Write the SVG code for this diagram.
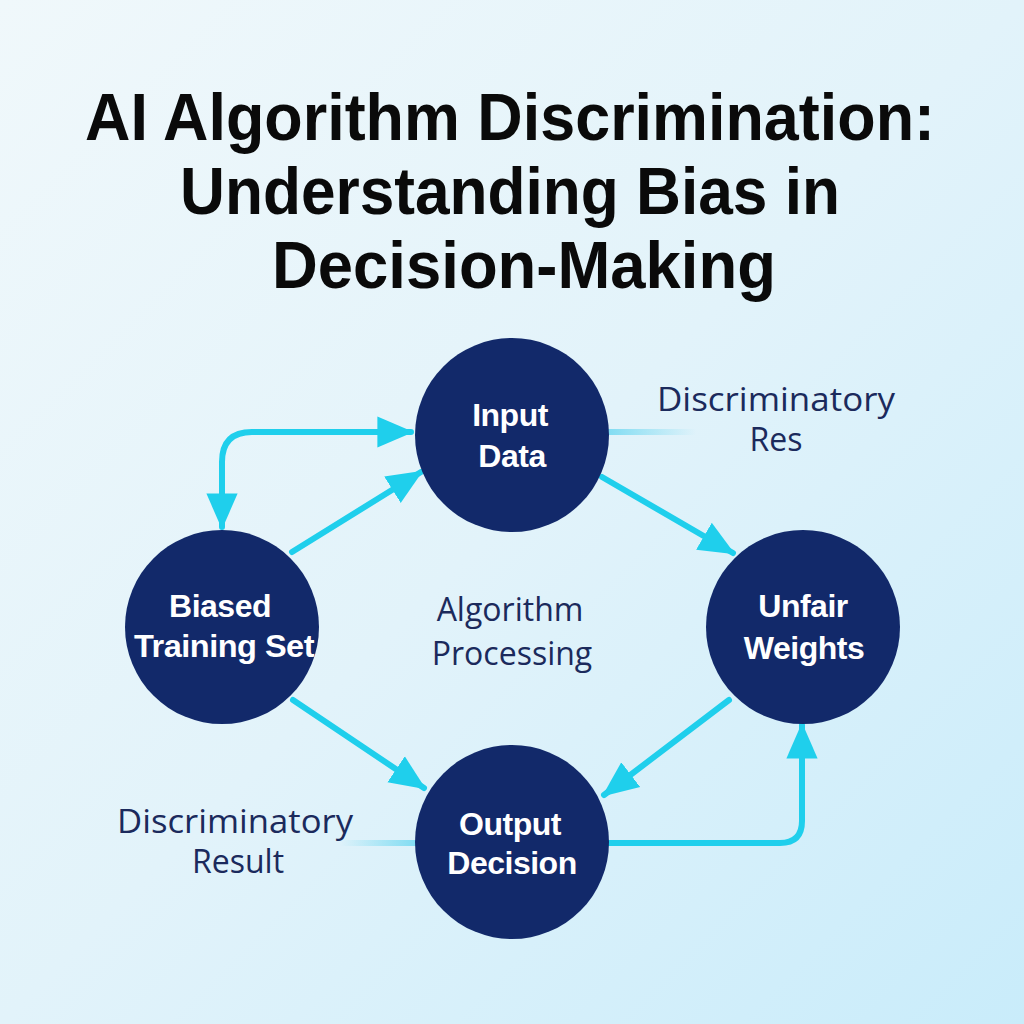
<svg xmlns="http://www.w3.org/2000/svg" width="1024" height="1024" viewBox="0 0 1024 1024">
<defs>
<linearGradient id="bg" x1="0" y1="0" x2="1" y2="1">
<stop offset="0" stop-color="#f0f8fb"/>
<stop offset="0.5" stop-color="#e2f3fa"/>
<stop offset="1" stop-color="#c9ecfa"/>
</linearGradient>
<linearGradient id="fadeR" x1="0" y1="0" x2="1" y2="0">
<stop offset="0" stop-color="#7fdcf2"/>
<stop offset="1" stop-color="#7fdcf2" stop-opacity="0"/>
</linearGradient>
<linearGradient id="fadeL" x1="1" y1="0" x2="0" y2="0">
<stop offset="0" stop-color="#7fdcf2"/>
<stop offset="1" stop-color="#7fdcf2" stop-opacity="0"/>
</linearGradient>
<marker id="ah" markerUnits="userSpaceOnUse" markerWidth="36" markerHeight="36" viewBox="0 0 30 30" refX="28" refY="15" orient="auto-start-reverse">
<path d="M0,2 L30,15 L0,28 Z" fill="#1fcfec"/>
</marker>
<style>
.node{fill:#12296a}
.nl{font-family:"Liberation Sans",Arial,sans-serif;font-weight:bold;font-size:32px;fill:#ffffff;text-anchor:middle;letter-spacing:-0.5px}
.fl{font-family:"Open Sans","Liberation Sans",sans-serif;font-size:32px;fill:#1b2a5c;text-anchor:middle}
.title{font-family:"Liberation Sans",Arial,sans-serif;font-weight:bold;font-size:66px;fill:#0a0a0a;text-anchor:middle}
.c{fill:none;stroke:#1fcfec;stroke-width:6;stroke-linecap:round;stroke-linejoin:round}
</style>
</defs>
<rect width="1024" height="1024" fill="url(#bg)"/>
<g id="title">
<text class="title" x="510" y="140" textLength="850" lengthAdjust="spacingAndGlyphs">AI Algorithm Discrimination:</text>
<text class="title" x="510" y="214" textLength="660" lengthAdjust="spacingAndGlyphs">Understanding Bias in</text>
<text class="title" x="524" y="288" textLength="504" lengthAdjust="spacingAndGlyphs">Decision-Making</text>
</g>
<g id="connectors">
<path class="c" d="M222,527 L222,462 Q222,432 252,432 L411,432" marker-start="url(#ah)" marker-end="url(#ah)"/>
<path class="c" d="M292,552 L421,472" marker-end="url(#ah)"/>
<path class="c" d="M602,477 L733,553" marker-end="url(#ah)"/>
<path class="c" d="M729,700 L604,795" marker-end="url(#ah)"/>
<path class="c" d="M293,700 L424,788" marker-end="url(#ah)"/>
<path class="c" d="M608,843 L780,843 Q802,843 802,821 L802,725" marker-end="url(#ah)"/>
<rect x="606" y="429" width="90" height="6" fill="url(#fadeR)"/>
<rect x="340" y="840" width="78" height="6" fill="url(#fadeL)"/>
</g>
<g id="input-data">
<circle class="node" cx="512" cy="435" r="97"/>
<text class="nl" x="510" y="426">Input</text>
<text class="nl" x="512" y="467">Data</text>
</g>
<g id="biased-training-set">
<circle class="node" cx="222" cy="627" r="97"/>
<text class="nl" x="220" y="617">Biased</text>
<text class="nl" x="224" y="657" textLength="180" lengthAdjust="spacingAndGlyphs">Training Set</text>
</g>
<g id="unfair-weights">
<circle class="node" cx="803" cy="627" r="97"/>
<text class="nl" x="803" y="617">Unfair</text>
<text class="nl" x="804" y="659">Weights</text>
</g>
<g id="output-decision">
<circle class="node" cx="512" cy="842" r="97"/>
<text class="nl" x="510" y="835">Output</text>
<text class="nl" x="512" y="874">Decision</text>
</g>
<g id="labels">
<text class="fl" x="776" y="411" textLength="238" lengthAdjust="spacingAndGlyphs">Discriminatory</text>
<text class="fl" x="776" y="451">Res</text>
<text class="fl" x="510" y="621">Algorithm</text>
<text class="fl" x="512" y="665">Processing</text>
<text class="fl" x="235" y="833" textLength="236" lengthAdjust="spacingAndGlyphs">Discriminatory</text>
<text class="fl" x="238" y="873">Result</text>
</g>
</svg>
